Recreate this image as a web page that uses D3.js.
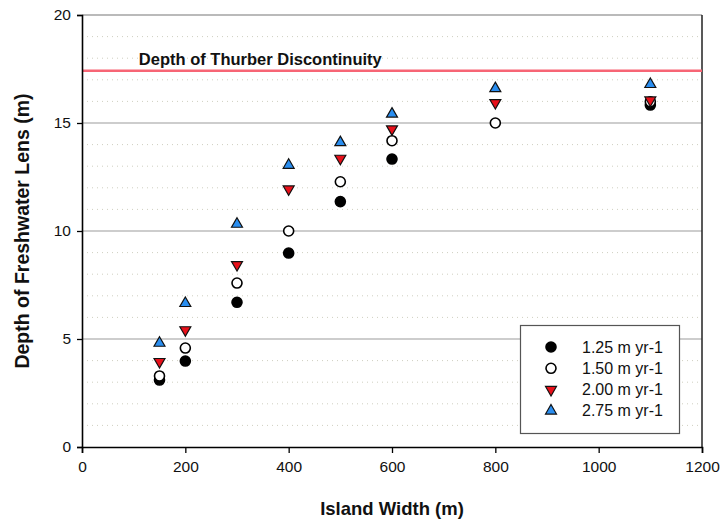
<!DOCTYPE html>
<html>
<head>
<meta charset="utf-8">
<script src="https://cdn.jsdelivr.net/npm/d3@7"></script>
<style>
  html, body { margin: 0; padding: 0; background: #fff; }
  svg { display: block; font-family: Arial, "Liberation Sans", sans-serif; }
</style>
</head>
<body>
<svg id="chart" width="723" height="523"></svg>
<script>
// Island width (m) for each simulated recharge rate
const widths = [150, 200, 300, 400, 500, 600, 800, 1100];

// Depth of freshwater lens (m) by recharge rate; null = not plotted
const rate125 = [3.10, 3.98, 6.70, 8.98, 11.36, 13.33, null, 15.83];
const rate150 = [3.29, 4.58, 7.59, 10.00, 12.28, 14.18, 15.00, 15.98];
const rate200 = [3.95, 5.42, 8.44, 11.94, 13.36, 14.72, 15.94, 16.06];
const rate275 = [4.81, 6.65, 10.32, 13.05, 14.10, 15.42, 16.60, 16.79];

const seriesNames = ["1.25 m yr-1", "1.50 m yr-1", "2.00 m yr-1", "2.75 m yr-1"];

const xTicks = [0, 200, 400, 600, 800, 1000, 1200];
const yTicks = [0, 5, 10, 15, 20];

const thurberDepth = 17.42;
const thurberLabel = "Depth of Thurber Discontinuity";

const svg = d3.select("#chart");
const plot = { left: 82, right: 702, top: 15, bottom: 447 };

const x = d3.scaleLinear().domain([0, 1200]).range([plot.left, plot.right]);
const y = d3.scaleLinear().domain([0, 20]).range([plot.bottom, plot.top]);

// minor dotted gridlines every 1 m
const minor = d3.range(1, 20).filter(v => v % 5 !== 0);
svg.append("g").selectAll("line").data(minor).join("line")
  .attr("x1", plot.left).attr("x2", plot.right)
  .attr("y1", d => y(d)).attr("y2", d => y(d))
  .attr("stroke", "#cfcfc0").attr("stroke-width", 1)
  .attr("stroke-dasharray", "1,4");

// major gridlines
svg.append("g").selectAll("line").data([5, 10, 15]).join("line")
  .attr("x1", plot.left).attr("x2", plot.right)
  .attr("y1", d => y(d)).attr("y2", d => y(d))
  .attr("stroke", "#bcbcbc").attr("stroke-width", 1.6);

// frame: top and right
svg.append("line")
  .attr("x1", plot.left).attr("x2", plot.right)
  .attr("y1", y(20)).attr("y2", y(20))
  .attr("stroke", "#777").attr("stroke-width", 1.2);
svg.append("line")
  .attr("x1", plot.right).attr("x2", plot.right)
  .attr("y1", y(20)).attr("y2", y(0))
  .attr("stroke", "#222").attr("stroke-width", 1.5);

// Thurber discontinuity reference line
svg.append("line")
  .attr("x1", plot.left).attr("x2", plot.right)
  .attr("y1", y(thurberDepth)).attr("y2", y(thurberDepth))
  .attr("stroke", "#f76575").attr("stroke-width", 2.5);
svg.append("text")
  .attr("x", x(110)).attr("y", y(thurberDepth) - 6)
  .attr("font-size", 16.5).attr("font-weight", "bold").attr("fill", "#111")
  .text(thurberLabel);

// axes
const xAxis = svg.append("g")
  .attr("transform", `translate(0,${plot.bottom})`)
  .call(d3.axisBottom(x).tickValues(xTicks).tickSize(6).tickPadding(8).tickFormat(d3.format("d")));
const yAxis = svg.append("g")
  .attr("transform", `translate(${plot.left},0)`)
  .call(d3.axisLeft(y).tickValues(yTicks).tickSize(5).tickPadding(6).tickFormat(d3.format("d")));
[xAxis, yAxis].forEach(g => {
  g.select(".domain").attr("stroke", "#000").attr("stroke-width", 1.6);
  g.selectAll(".tick line").attr("stroke", "#000").attr("stroke-width", 1.3);
  g.selectAll(".tick text").attr("font-size", 15.5).attr("fill", "#111")
    .attr("font-family", "Arial, 'Liberation Sans', sans-serif");
});

// axis titles
svg.append("text")
  .attr("x", (plot.left + plot.right) / 2).attr("y", 515)
  .attr("text-anchor", "middle").attr("font-size", 18.5).attr("font-weight", "bold")
  .attr("fill", "#111").text("Island Width (m)");
svg.append("text")
  .attr("transform", `translate(29,${(plot.top + plot.bottom) / 2}) rotate(-90)`)
  .attr("text-anchor", "middle").attr("font-size", 19.5).attr("font-weight", "bold")
  .attr("fill", "#111").text("Depth of Freshwater Lens (m)");

// marker styles for each series
const styles = [
  { shape: "circle", fill: "#000" },
  { shape: "circle", fill: "#fff" },
  { shape: "down", fill: "#e8101a" },
  { shape: "up", fill: "#2a8ef0" }
];
const triSym = d3.symbol().type(d3.symbolTriangle).size(52);

function drawMarker(g, style, cx, cy) {
  if (style.shape === "circle") {
    g.append("circle").attr("cx", cx).attr("cy", cy).attr("r", 5)
      .attr("fill", style.fill).attr("stroke", "#000").attr("stroke-width", 1.6);
  } else {
    const rot = style.shape === "down" ? 180 : 0;
    g.append("path").attr("d", triSym())
      .attr("transform", `translate(${cx},${cy}) rotate(${rot})`)
      .attr("fill", style.fill).attr("stroke", "#111").attr("stroke-width", 1.2);
  }
}

const allSeries = [rate125, rate150, rate200, rate275];
allSeries.forEach((vals, i) => {
  const g = svg.append("g");
  vals.forEach((v, j) => {
    if (v === null) return;
    drawMarker(g, styles[i], x(widths[j]), y(v));
  });
});

// legend
const leg = svg.append("g");
leg.append("rect")
  .attr("x", 520.5).attr("y", 325.5).attr("width", 159).attr("height", 108)
  .attr("fill", "#fff").attr("stroke", "#555").attr("stroke-width", 1.2);
seriesNames.forEach((name, i) => {
  const cy = 347 + i * 21.3;
  drawMarker(leg, styles[i], 551, cy);
  leg.append("text").attr("x", 582).attr("y", cy + 5.5)
    .attr("font-size", 16).attr("fill", "#111").text(name);
});
</script>
</body>
</html>
